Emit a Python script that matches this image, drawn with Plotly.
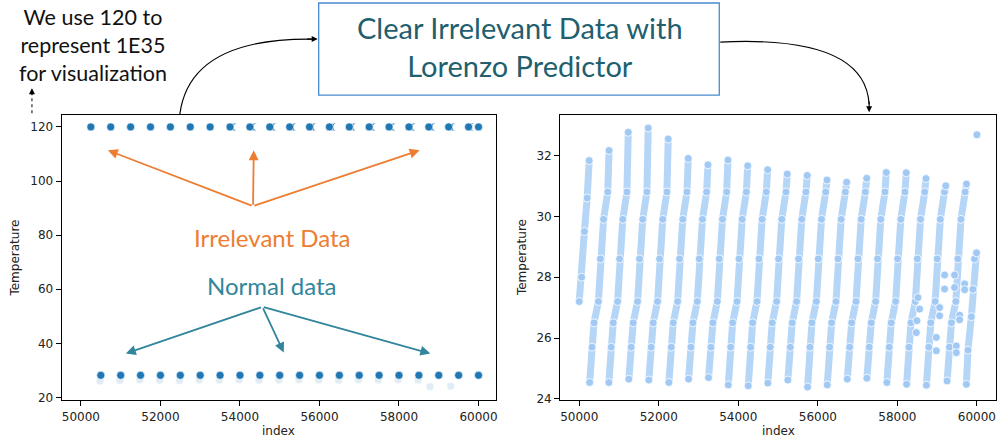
import plotly.graph_objects as go

W = 997
REF_H = 441          # coordinate space of the reference picture
FIG_H = 448          # figure height (the capture compresses it to 441)
SY = FIG_H / REF_H

# ---------------- Left panel data (raw data, 1E35 drawn as 120) ----------------
irr_idx = [50250, 50750, 51250, 51750, 52250, 52750, 53250, 53750, 54250, 54750,
           55250, 55750, 56250, 56750, 57250, 57750, 58250, 58750, 59250, 59750, 60000]
IRRELEVANT_VALUE = 120
irr_ghost_idx = [53890, 54390, 54890, 55390, 55890, 56390, 56890, 57390, 57890,
                 58390, 58890, 59390, 59860]
normal_idx = [50500, 51000, 51500, 52000, 52500, 53000, 53500, 54000, 54500, 55000,
              55500, 56000, 56500, 57000, 57500, 58000, 58500, 59000, 59500, 60000]
normal_val = [28.2, 28.2, 28.2, 28.2, 28.2, 28.2, 28.2, 28.2, 28.2, 28.2,
              28.2, 28.2, 28.2, 28.2, 28.2, 28.2, 28.2, 28.2, 28.2, 28.2]
faint_idx = [50480, 50980, 51480, 51980, 52480, 52980, 53480, 53980, 54480, 54980,
             55480, 55980, 56480, 56980, 57480, 57980, 58480, 58780, 59300]
faint_val = [26.1, 26.3, 26.6, 26.4, 26.3, 26.6, 26.5, 26.6, 26.4, 26.5,
             26.6, 26.5, 26.4, 26.6, 26.5, 26.6, 26.5, 24.0, 24.2]

# ---------------- Right panel data (cleaned) ----------------
head_idx = [50000, 50060, 50130, 50200, 50250]
head_temp = [27.2, 28.0, 29.5, 30.6, 31.83]
ramp_start = [50262, 50745, 51247, 51750, 52254, 52749, 53252, 53748, 54250, 54743,
              55246, 55742, 56237, 56740, 57233, 57736, 58232, 58730, 59250]
ramp_bottom = [24.54, 24.54, 24.65, 24.62, 24.54, 24.65, 24.70, 24.46, 24.43, 24.52,
               24.62, 24.39, 24.46, 24.65, 24.68, 24.54, 24.48, 24.45, 24.59]
ramp_top = [32.16, 32.76, 32.90, 32.54, 31.90, 31.69, 31.85, 31.66, 31.53, 31.39,
            31.34, 31.19, 31.12, 31.25, 31.44, 31.43, 31.24, 31.00, 31.06]
profile_offset = [60, 110, 220, 270, 350, 455]
profile_temp = [25.7, 26.5, 27.2, 28.6, 29.9, 30.8]
ramp_end_offset = 488
tail_idx = [59735, 59775, 59860, 59900, 59940, 59990]
tail_temp = [24.48, 25.6, 26.7, 27.6, 28.6, 28.8]
spike_idx = [60000]
spike_temp = [32.68]
loose_idx = [59188, 59188, 59062, 59062, 58979, 58979, 59482, 59482, 59691, 59691,
             59565, 59565, 59439, 59439, 58516, 58559, 58491, 58476]
loose_temp = [28.07, 27.61, 27.0, 26.73, 26.02, 25.58, 25.74, 25.52, 27.78, 27.59,
              26.75, 26.6, 28.07, 27.66, 27.33, 26.95, 26.57, 26.18]

DARK = "#1f77b4"
PASTEL = "#a1c9f4"
ORANGE = "#ed7d31"
TEAL = "#31859c"
TITLE_C = "#215f6e"
AX_FONT = dict(family="DejaVu Sans", size=12, color="#222222")

# build ramp polylines from the read knots
rx, ry = list(head_idx) + [None], list(head_temp) + [None]
for s, b, t in zip(ramp_start, ramp_bottom, ramp_top):
    rx += [s] + [s + o for o in profile_offset] + [s + ramp_end_offset, None]
    ry += [b] + list(profile_temp) + [t, None]
rx += tail_idx
ry += tail_temp

fig = go.Figure()

# left panel
fig.add_trace(go.Scatter(x=faint_idx, y=faint_val, mode="markers", xaxis="x", yaxis="y",
                         marker=dict(size=8, color=DARK, opacity=0.13,
                                     line=dict(color="white", width=0.6)),
                         showlegend=False, hoverinfo="skip"))
fig.add_trace(go.Scatter(x=irr_ghost_idx, y=[IRRELEVANT_VALUE] * len(irr_ghost_idx),
                         mode="markers", xaxis="x", yaxis="y",
                         marker=dict(size=8, color=DARK, line=dict(color="white", width=0.6)),
                         showlegend=False, hoverinfo="skip"))
fig.add_trace(go.Scatter(x=[i + 55 for i in irr_ghost_idx], y=[IRRELEVANT_VALUE] * len(irr_ghost_idx),
                         mode="markers", xaxis="x", yaxis="y",
                         marker=dict(size=8, color="white", line=dict(color="white", width=0)),
                         showlegend=False, hoverinfo="skip"))
fig.add_trace(go.Scatter(x=irr_idx, y=[IRRELEVANT_VALUE] * len(irr_idx), mode="markers",
                         xaxis="x", yaxis="y",
                         marker=dict(size=8, color=DARK, line=dict(color="white", width=0.6)),
                         showlegend=False))
fig.add_trace(go.Scatter(x=normal_idx, y=normal_val, mode="markers", xaxis="x", yaxis="y",
                         marker=dict(size=8, color=DARK, line=dict(color="white", width=0.6)),
                         showlegend=False))

# right panel
fig.add_trace(go.Scatter(x=rx, y=ry, mode="lines+markers", xaxis="x2", yaxis="y2",
                         line=dict(color="#b6d6f7", width=7),
                         marker=dict(size=8, color=PASTEL, line=dict(color="white", width=0.8)),
                         connectgaps=False, showlegend=False))
fig.add_trace(go.Scatter(x=loose_idx + spike_idx, y=loose_temp + spike_temp, mode="markers",
                         xaxis="x2", yaxis="y2",
                         marker=dict(size=8, color=PASTEL, line=dict(color="white", width=0.8)),
                         showlegend=False))

def px(x):
    return x / W

def py(y):
    return 1 - y / REF_H

axis_common = dict(showgrid=False, zeroline=False, showline=True, linecolor="black",
                   linewidth=1, mirror=True, ticks="outside", ticklen=5, tickwidth=1,
                   tickcolor="black", tickfont=AX_FONT)

fig.update_layout(
    width=W, height=FIG_H, margin=dict(l=0, r=0, t=0, b=0),
    paper_bgcolor="white", plot_bgcolor="white",
    xaxis=dict(domain=[px(61.7), px(496.7)], range=[49515, 60445], tickformat="d",
               tickvals=[50000, 52000, 54000, 56000, 58000, 60000], anchor="y", **axis_common),
    yaxis=dict(domain=[py(399.3), py(115)], range=[19.0, 124.3],
               tickvals=[20, 40, 60, 80, 100, 120], anchor="x", **axis_common),
    xaxis2=dict(domain=[px(560.7), 1.0], range=[49520, 60480], tickformat="d",
                tickvals=[50000, 52000, 54000, 56000, 58000, 60000], anchor="y2", **axis_common),
    yaxis2=dict(domain=[py(399.3), py(115)], range=[23.957, 33.32],
                tickvals=[24, 26, 28, 30, 32], anchor="x2", **axis_common),
)

shapes = []
annos = []

def text(x, y, s, size, color, family="Lato", angle=0):
    annos.append(dict(x=px(x), y=py(y), xref="paper", yref="paper", text=s, showarrow=False,
                      xanchor="center", yanchor="middle", textangle=angle,
                      font=dict(family=family, size=size, color=color)))

def arrow(tail, head, color, width, size=1.0):
    annos.append(dict(x=px(head[0]), y=py(head[1]), xref="paper", yref="paper",
                      ax=tail[0] - head[0], ay=(tail[1] - head[1]) * SY,
                      axref="pixel", ayref="pixel",
                      text="", showarrow=True, arrowhead=2, arrowsize=size, arrowwidth=width,
                      arrowcolor=color, standoff=0, startstandoff=0))

# axis titles
text(279, 430, "index", 12, "#222222", family="DejaVu Sans")
text(779, 430, "index", 12, "#222222", family="DejaVu Sans")
text(15, 257, "Temperature", 12, "#222222", family="DejaVu Sans", angle=-90)
text(522, 257, "Temperature", 12, "#222222", family="DejaVu Sans", angle=-90)

# title box
shapes.append(dict(type="rect", xref="paper", yref="paper", x0=px(319), x1=px(720),
                   y0=py(95), y1=py(3), line=dict(color="#4a8ad0", width=1.3),
                   fillcolor="white", layer="above"))
text(521, 46, "Clear Irrelevant Data with<br>Lorenzo Predictor", 29, TITLE_C)

# top-left note
text(93, 45, "We use 120 to<br>represent 1E35<br>for visualization", 21.5, "#111111")
shapes.append(dict(type="line", xref="paper", yref="paper", x0=px(32), x1=px(32),
                   y0=py(113), y1=py(94), line=dict(color="black", width=1, dash="dot")))
arrow((32, 96), (32, 88), "black", 1.2, 1.0)

# curved arrows
def qpath(p0, c, p1):
    return (f"M {px(p0[0])},{py(p0[1])} Q {px(c[0])},{py(c[1])} {px(p1[0])},{py(p1[1])}")

shapes.append(dict(type="path", xref="paper", yref="paper",
                   path=qpath((180, 114), (190, 38), (312, 39)),
                   line=dict(color="black", width=1.2)))
arrow((306, 39), (318, 39), "black", 1.2, 1.0)
shapes.append(dict(type="path", xref="paper", yref="paper",
                   path=qpath((721, 42), (866, 35), (870, 104)),
                   line=dict(color="black", width=1.2)))
arrow((870, 100), (870, 112), "black", 1.2, 1.0)

# orange arrows and label
for h in [(108, 150), (254, 150), (420, 150)]:
    arrow((253.3, 205), h, ORANGE, 1.8, 1.1)
text(272.5, 237, "Irrelevant Data", 24, ORANGE)

# teal arrows and label
text(272.5, 285, "Normal data", 24, TEAL)
for h in [(126, 352.7), (284, 351.7), (430.7, 352.7)]:
    arrow((262.7, 306.7), h, TEAL, 1.8, 1.1)

fig.update_layout(shapes=shapes, annotations=annos)
fig.write_html("out.html")
